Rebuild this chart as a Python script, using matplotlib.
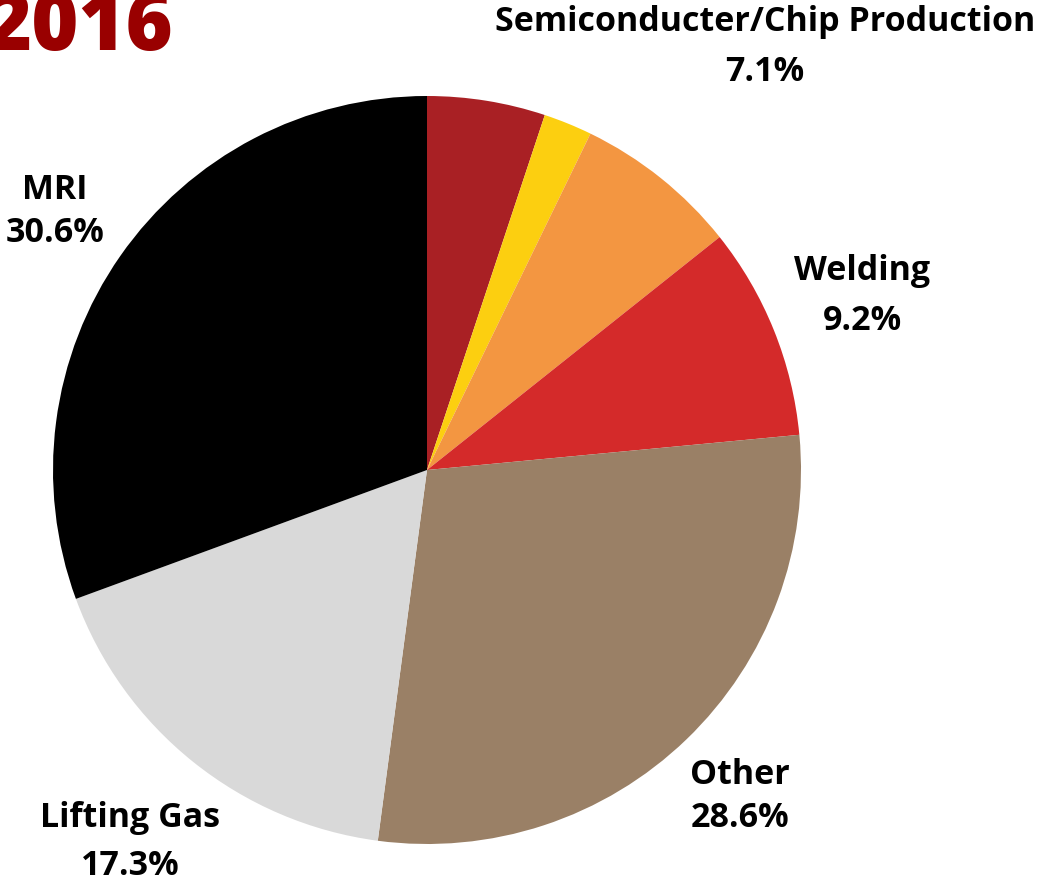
import matplotlib.pyplot as plt

# slice data, clockwise from 12 o'clock
segments = ["Other Use A", "Other Use B", "Semiconducter/Chip Production", "Welding",
            "Other", "Lifting Gas", "MRI"]
shares = [5.1, 2.1, 7.1, 9.2, 28.6, 17.3, 30.6]
colors = ["#A92024", "#FCCF10", "#F39641", "#D42A2A", "#9A8066", "#D9D9D9", "#000000"]

# labels that are written on the chart
label_names = ["Semiconducter/Chip Production", "Welding", "Other", "Lifting Gas", "MRI"]
label_values = ["7.1%", "9.2%", "28.6%", "17.3%", "30.6%"]

W, H = 1050, 886
fig = plt.figure(figsize=(W / 100, H / 100), dpi=100)
ax = fig.add_axes([0, 0, 1, 1])
ax.set_xlim(0, W)
ax.set_ylim(0, H)
ax.set_aspect("equal")
ax.axis("off")

ax.pie(shares, colors=colors, startangle=90, counterclock=False,
       center=(427, H - 470), radius=374,
       wedgeprops=dict(linewidth=0))
ax.set_xlim(0, W)
ax.set_ylim(0, H)

font = dict(family="Open Sans", fontweight="bold", fontsize=24.5, color="black",
            ha="center", va="center")

# (x, name y, value y) in pixel coords from top
pos = [(765, 22, 72), (862, 271, 321), (740, 775, 818), (130, 818, 866), (55, 190, 233)]
for (x, y1, y2), name, val in zip(pos, label_names, label_values):
    ax.text(x, H - y1, name, **font)
    ax.text(x, H - y2, val, **font)

ax.text(-16, H - 50, "2016", family="Open Sans", fontweight="heavy", fontsize=58,
        color="#990000", ha="left", va="baseline")

fig.savefig("out.png", dpi=100)
